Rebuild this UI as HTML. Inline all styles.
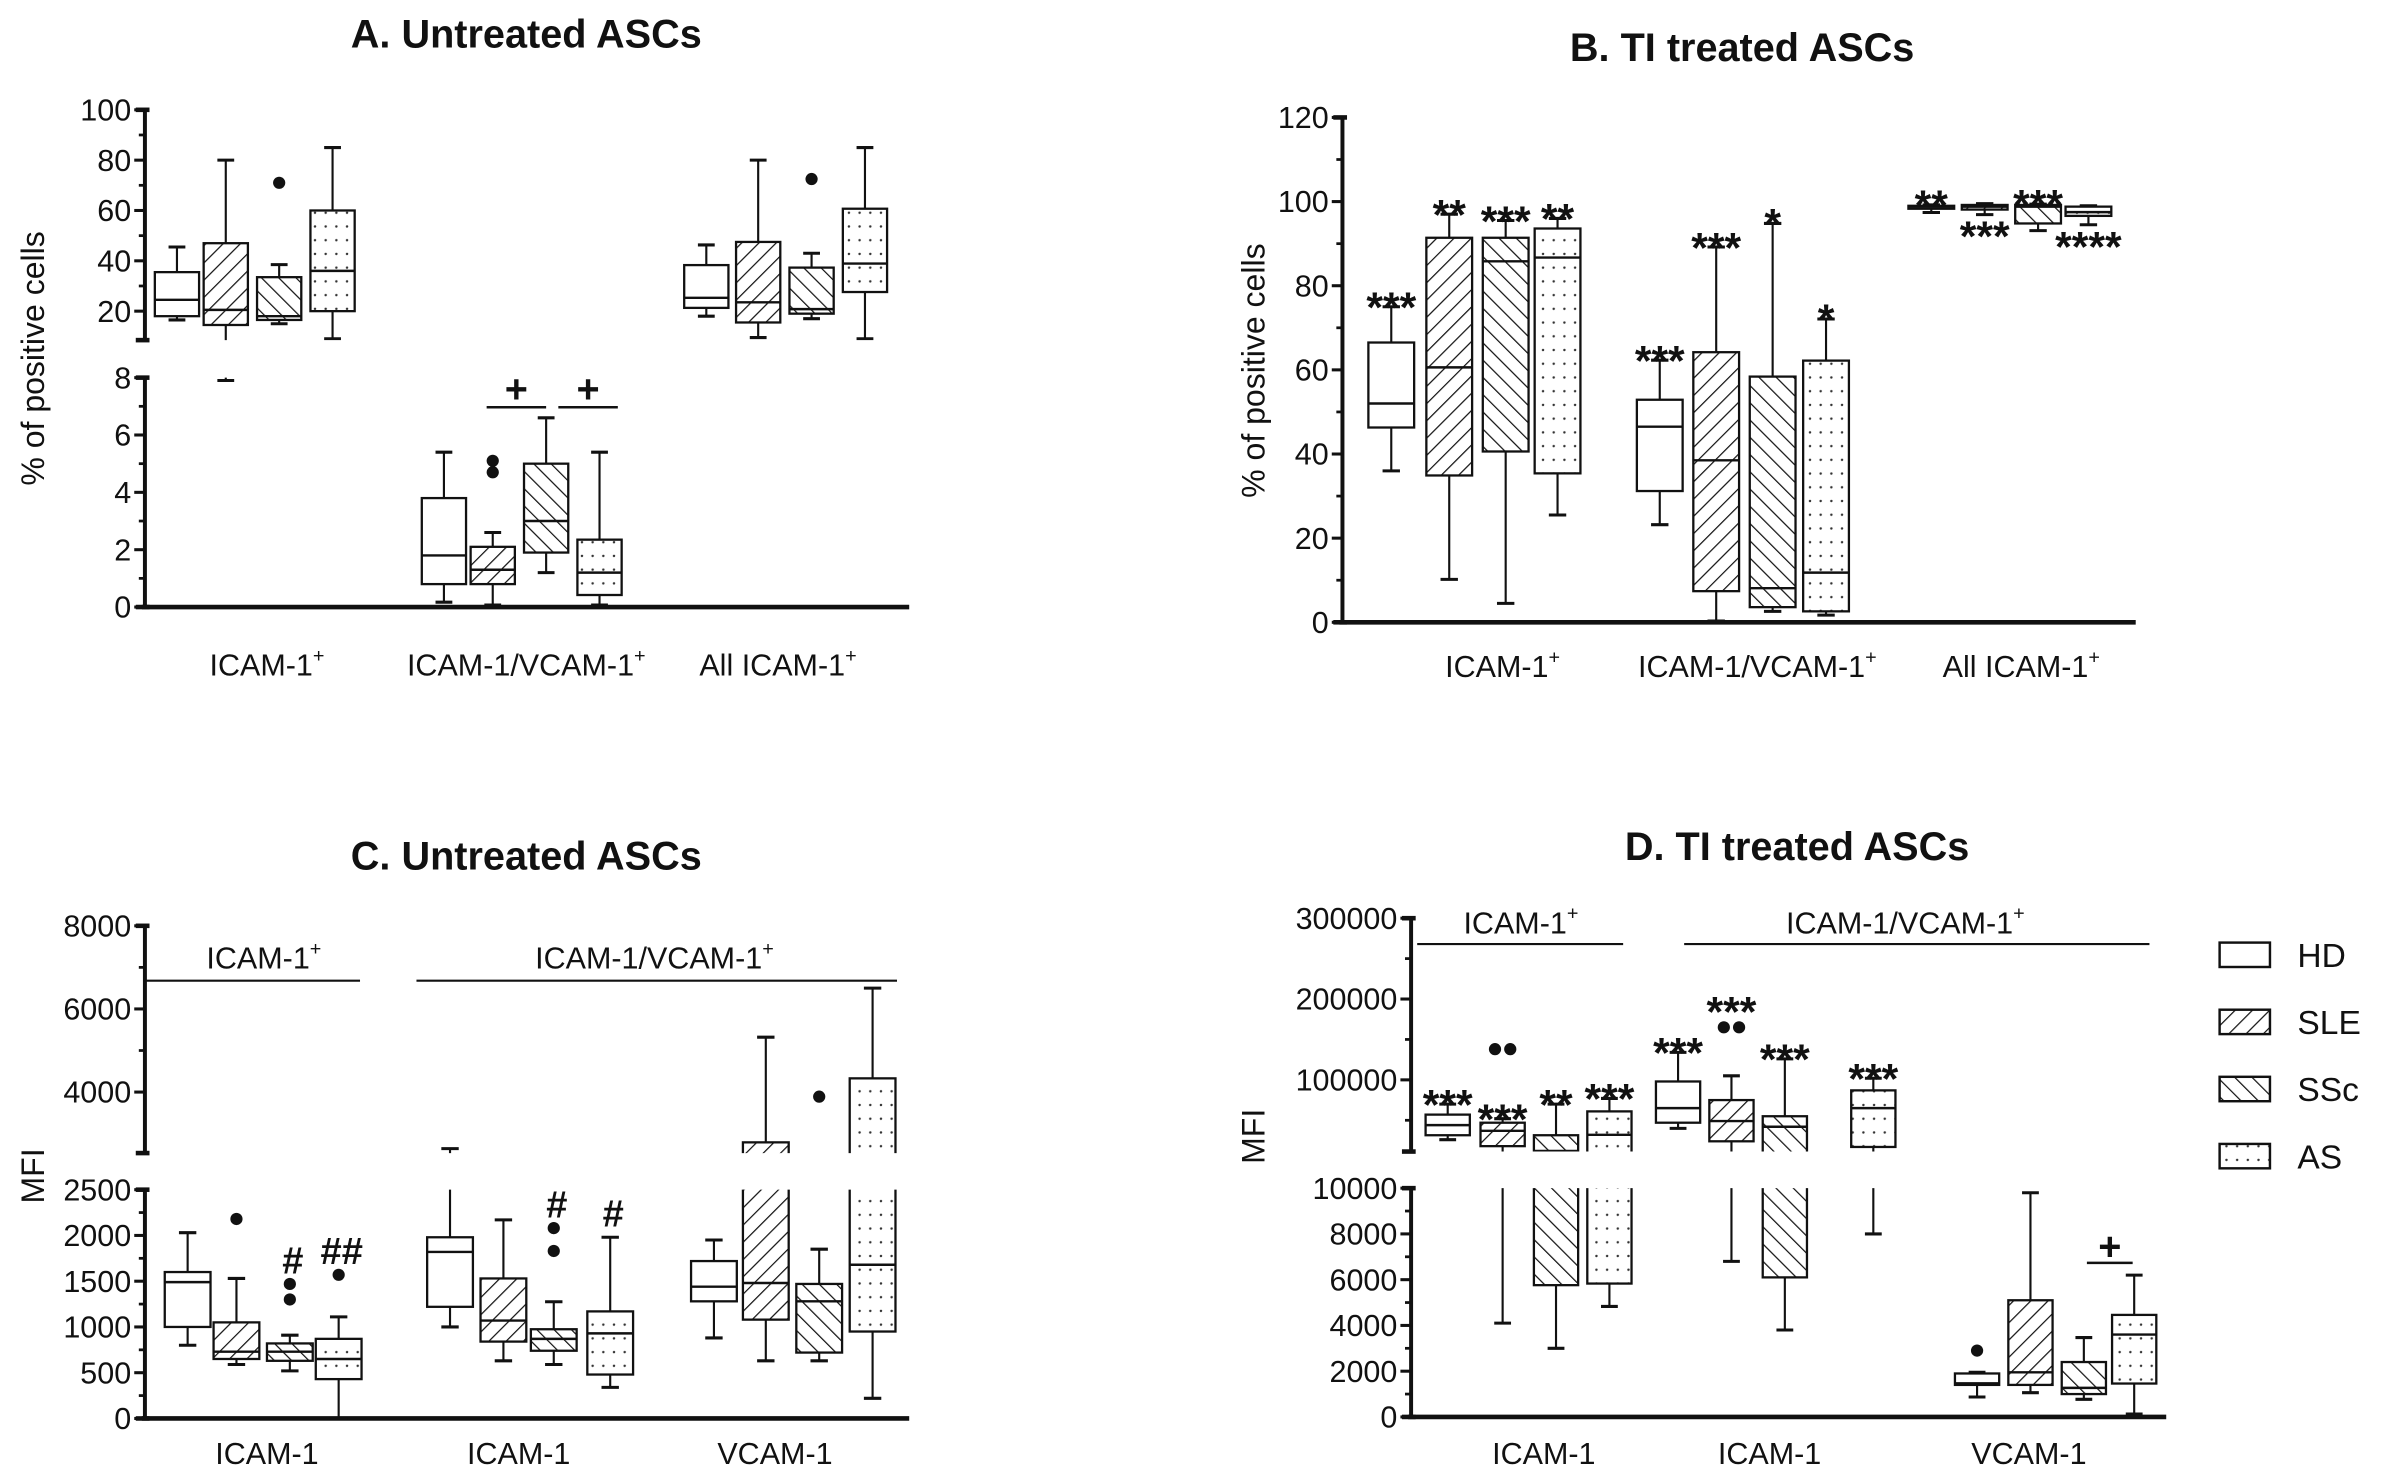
<!DOCTYPE html>
<html><head><meta charset="utf-8"><style>
html,body{margin:0;padding:0;background:#fff}
svg{display:block}
text{font-family:"Liberation Sans",Arial,sans-serif;fill:#111}
</style></head><body>
<svg id="chart" xmlns="http://www.w3.org/2000/svg" width="2392" height="1481" viewBox="0 0 1568 971" preserveAspectRatio="none">
<defs>
<pattern id="pSLE" patternUnits="userSpaceOnUse" width="8" height="8" patternTransform="rotate(45)"><rect width="8" height="8" fill="#fff"/><line x1="0" y1="0" x2="0" y2="8" stroke="#111" stroke-width="1.6"/></pattern>
<pattern id="pSSc" patternUnits="userSpaceOnUse" width="8" height="8" patternTransform="rotate(-45)"><rect width="8" height="8" fill="#fff"/><line x1="0" y1="0" x2="0" y2="8" stroke="#111" stroke-width="1.6"/></pattern>
<pattern id="pAS" patternUnits="userSpaceOnUse" width="7" height="9"><rect width="7" height="9" fill="#fff"/><circle cx="3.5" cy="4.5" r="0.8" fill="#333"/></pattern>
</defs>
</svg>
<script>
// ---------- DATA: [min, q1, median, q3, max] per group ----------
const seriesNames = ['HD','SLE','SSc','AS'];
// Panel A (% positive, groups: ICAM-1+, ICAM-1/VCAM-1+, All ICAM-1+)
const A_HD  = [[16.5,18,24.5,35.5,45.5],[0.17,0.8,1.8,3.8,5.4],[18,21.3,25.3,38.3,46.3]];
const A_SLE = [[7.9,14.5,20.5,47,80],[0.07,0.8,1.3,2.1,2.6],[9.5,15.5,23.5,47.5,80]];
const A_SSc = [[15,16.5,18,33.5,38.5],[1.2,1.9,3.0,5.0,6.6],[17,19,20.8,37.3,43]];
const A_AS  = [[9,20,36,60,85],[0.07,0.42,1.2,2.35,5.4],[9,27.6,38.9,60.7,85]];
const A_out = [[0,2,71],[1,1,4.7],[1,1,5.1],[2,2,72.5]];
const A_yUpTicks = [20,40,60,80,100];
const A_yLowTicks = [0,2,4,6,8];
// Panel B
const B_HD  = [[36,46.3,52,66.5,75],[23.2,31.2,46.5,52.9,62.3],[97.4,98.3,98.8,99,99.2]];
const B_SLE = [[10.2,34.9,60.6,91.4,97],[0.3,7.4,38.5,64.2,89.2],[96.9,98.1,98.8,99.2,99.5]];
const B_SSc = [[4.5,40.6,85.8,91.4,95.5],[2.6,3.6,8.1,58.4,94.8],[93.1,94.8,98.8,99.2,99.4]];
const B_AS  = [[25.5,35.4,86.7,93.6,96],[1.7,2.6,11.8,62.2,72.1],[94.5,96.6,97.5,98.8,99]];
const B_stars = [[0,0,'***',1],[0,1,'**',1],[0,2,'***',1],[0,3,'**',1],[1,0,'***',1],[1,1,'***',1],[1,2,'*',1],[1,3,'*',1],[2,0,'**',1],[2,1,'***',-1],[2,2,'***',1],[2,3,'****',-1]];
const B_yTicks = [0,20,40,60,80,100,120];
// Panel C (MFI, groups: ICAM-1, ICAM-1, VCAM-1)
const C_HD  = [[800,1000,1490,1600,2030],[1000,1220,1820,1980,2640],[880,1280,1440,1720,1950]];
const C_SLE = [[590,650,730,1050,1530],[630,840,1070,1530,2170],[630,1080,1480,2790,5320]];
const C_SSc = [[520,630,730,820,910],[590,740,870,975,1275],[630,720,1280,1470,1850]];
const C_AS  = [[0,430,650,870,1110],[340,480,930,1170,1980],[220,950,1680,4330,6500]];
const C_out = [[0,1,2180],[0,2,1470],[0,2,1300],[0,3,1570],[1,2,2080],[1,2,1830],[2,2,3890]];
const C_marks = [[0,2,'#',1470],[0,3,'##',1570],[1,2,'#',2080],[1,3,'#',1980]];
const C_yUpTicks = [4000,6000,8000];
const C_yLowTicks = [0,500,1000,1500,2000,2500];
// Panel D
const D_HD  = [[26000,31500,44000,57000,70000],[40000,47000,65000,98000,134000],[870,1400,1470,1900,1950]];
const D_SLE = [[4100,18000,37000,47000,52000],[6800,24000,49000,75000,105000],[1060,1400,1950,5100,9800]];
const D_SSc = [[3000,5760,12000,31500,70000],[3800,6100,42000,55000,126000],[770,1000,1270,2400,3470]];
const D_AS  = [[4830,5830,32000,61000,77000],[8000,17000,65000,87000,102000],[130,1460,3600,4460,6200]];
const D_out = [[0,1,138000],[0,1,138000],[1,1,165000],[1,1,165000],[2,0,2900]];
const D_stars = [[0,0,'***',70000],[0,1,'***',52000],[0,2,'**',70000],[0,3,'***',77000],[1,0,'***',134000],[1,1,'***',185000],[1,2,'***',126000],[1,3,'***',102000]];
const D_yUpTicks = [100000,200000,300000];
const D_yLowTicks = [0,2000,4000,6000,8000,10000];

// ---------- helpers ----------
const NS='http://www.w3.org/2000/svg';
const svg=document.getElementById('chart');
function mk(tag,attrs,parent){const e=document.createElementNS(NS,tag);for(const k in attrs)e.setAttribute(k,attrs[k]);(parent||svg).appendChild(e);return e;}
function lin(v0,y0,v1,y1){return v=>y0+(v-v0)*(y1-y0)/(v1-v0);}
function broken(th,low,up){return v=>v>th?up(v):low(v);}
const fills=['#fff','url(#pSLE)','url(#pSSc)','url(#pAS)'];
let clipN=0;
function clipRect(y0,y1){const id='c'+(clipN++);const c=mk('clipPath',{id:id},svg.querySelector('defs'));mk('rect',{x:0,y:y0,width:1568,height:y1-y0},c);return id;}

function drawBoxes(P){
  const series=[P.HD,P.SLE,P.SSc,P.AS];
  const clips=P.clips.map(c=>clipRect(c[0],c[1]));
  series.forEach((ser,si)=>{
    ser.forEach((s,gi)=>{
      const cx=P.centers[gi][si],w=P.w,y=P.y;
      clips.forEach(cid=>{
        const g=mk('g',{'clip-path':'url(#'+cid+')'});
        
        
        const cap=w*0.38;
        mk('line',{x1:cx,x2:cx,y1:y(s[3]),y2:y(s[4]),stroke:'#111','stroke-width':1.4},g);
        mk('line',{x1:cx,x2:cx,y1:y(s[1]),y2:y(s[0]),stroke:'#111','stroke-width':1.4},g);
        mk('line',{x1:cx-cap/2,x2:cx+cap/2,y1:y(s[4]),y2:y(s[4]),stroke:'#111','stroke-width':2},g);
        mk('line',{x1:cx-cap/2,x2:cx+cap/2,y1:y(s[0]),y2:y(s[0]),stroke:'#111','stroke-width':2},g);
        mk('rect',{x:cx-w/2,y:y(s[3]),width:w,height:Math.max(1,y(s[1])-y(s[3])),fill:fills[si],stroke:'#111','stroke-width':1.5},g);
        mk('line',{x1:cx-w/2,x2:cx+w/2,y1:y(s[2]),y2:y(s[2]),stroke:'#111','stroke-width':1.6},g);
      });
    });
  });
  const seen={};
  (P.out||[]).forEach(o=>{
    const key=o[0]+'_'+o[1]+'_'+o[2];seen[key]=(seen[key]||0)+1;
    const cnt=(P.out.filter(p=>p[0]==o[0]&&p[1]==o[1]&&p[2]==o[2])).length;
    const dx=cnt>1?(seen[key]==1?-5:5):0;
    const c=mk('circle',{cx:P.centers[o[0]][o[1]]+dx,cy:P.y(o[2]),r:4,fill:'#111'});
    
    
  });
}
function axis(P){
  const ax=P.ax;
  P.segs.forEach(sg=>{
    const l=mk('line',{x1:ax,x2:ax,y1:sg[0],y2:sg[1],stroke:'#111','stroke-width':2.6});
    
    
    mk('line',{x1:ax-6,x2:ax+3,y1:sg[0],y2:sg[0],stroke:'#111','stroke-width':3});
    mk('line',{x1:ax-6,x2:ax+3,y1:sg[1],y2:sg[1],stroke:'#111','stroke-width':3});
  });
  P.ticks.forEach(v=>{
    const yy=P.y(v);
    mk('line',{x1:ax-7,x2:ax,y1:yy,y2:yy,stroke:'#111','stroke-width':2});
    const t=mk('text',{x:ax-9,y:yy+7,'text-anchor':'end','font-size':20});
    t.textContent=v;
    
    
  });
  (P.minor||[]).forEach(v=>{const yy=P.y(v);mk('line',{x1:ax-4,x2:ax,y1:yy,y2:yy,stroke:'#111','stroke-width':1.8});});
  const xl=mk('line',{x1:ax-2,x2:P.xEnd,y1:P.base,y2:P.base,stroke:'#111','stroke-width':3});
  
  
}
function txt(x,y,s,size,attrs,name){const t=mk('text',Object.assign({x:x,y:y,'font-size':size,'text-anchor':'middle'},attrs||{}));t.innerHTML=s;return t;}
const sup='<tspan dy="-9" font-size="13">+</tspan>';

// ---------- Panel A ----------
const PA={ax:95,xEnd:596,base:398,w:29,
  y:broken(8.2,lin(0,398,8,247.6),lin(20,204,100,72)),
  centers:[[116,148,183,218],[291,323,358,393],[463,497,532,567]],
  HD:A_HD,SLE:A_SLE,SSc:A_SSc,AS:A_AS,out:A_out,
  clips:[[0,223],[247.6,401]],segs:[[72,223],[247.6,398]],
  ticks:A_yUpTicks.concat(A_yLowTicks),minor:[30,50,70,90,1,3,5,7]};
axis(PA);drawBoxes(PA);
txt(345,31,'A. Untreated ASCs',26,{'font-weight':'bold'},'panel-a-title');
txt(0,0,'% of positive cells',21,{transform:'translate(29,235) rotate(-90)'},'panel-a-y-title');
txt(175,443,'ICAM-1'+sup,20,{},'panel-a-group-label');
txt(345,443,'ICAM-1/VCAM-1'+sup,20,{},'panel-a-group-label');
txt(510,443,'All ICAM-1'+sup,20,{},'panel-a-group-label');
[[319,358],[366,405]].forEach(b=>{mk('line',{x1:b[0],x2:b[1],y1:267,y2:267,stroke:'#111','stroke-width':1.6});txt((b[0]+b[1])/2,264,'+',26,{'font-weight':'bold'},'significance-plus');});

// ---------- Panel B ----------
const PB={ax:880,xEnd:1400,base:408,w:30,
  y:lin(0,408,120,77),
  centers:[[912,950,987,1021],[1088,1125,1162,1197],[1266,1301,1336,1369]],
  HD:B_HD,SLE:B_SLE,SSc:B_SSc,AS:B_AS,out:[],
  clips:[[0,412]],segs:[[77,408]],ticks:B_yTicks,minor:[10,30,50,70,90,110]};
axis(PB);drawBoxes(PB);
B_stars.forEach(s=>{const ser=[B_HD,B_SLE,B_SSc,B_AS][s[1]][s[0]];const cx=PB.centers[s[0]][s[1]];
  const yy=s[3]>0?PB.y(ser[4])+10:PB.y(ser[0])+24;txt(cx,yy,s[2],28,{'font-weight':'bold'},'significance-stars');});
txt(1142,40,'B. TI treated ASCs',26,{'font-weight':'bold'},'panel-b-title');
txt(0,0,'% of positive cells',21,{transform:'translate(829,243) rotate(-90)'},'panel-b-y-title');
txt(985,444,'ICAM-1'+sup,20,{},'panel-b-group-label');
txt(1152,444,'ICAM-1/VCAM-1'+sup,20,{},'panel-b-group-label');
txt(1325,444,'All ICAM-1'+sup,20,{},'panel-b-group-label');

// ---------- Panel C ----------
const PC={ax:95,xEnd:596,base:930,w:30,
  y:broken(2530,lin(0,930,2500,780),lin(4000,716,8000,607)),
  centers:[[123,155,190,222],[295,330,363,400],[468,502,537,572]],
  HD:C_HD,SLE:C_SLE,SSc:C_SSc,AS:C_AS,out:C_out,
  clips:[[0,756],[780,933]],segs:[[607,756],[780,930]],
  ticks:C_yUpTicks.concat(C_yLowTicks),minor:[5000,7000,250,750,1250,1750,2250]};
axis(PC);drawBoxes(PC);
C_marks.forEach(m=>{txt(PC.centers[m[0]][m[1]]+2,PC.y(m[3])-7,m[2],25,{'font-weight':'bold'},'significance-hash');});
txt(345,570,'C. Untreated ASCs',26,{'font-weight':'bold'},'panel-c-title');
txt(0,0,'MFI',21,{transform:'translate(29,771) rotate(-90)'},'panel-c-y-title');
mk('line',{x1:95,x2:236,y1:643,y2:643,stroke:'#111','stroke-width':1.4});
mk('line',{x1:273,x2:588,y1:643,y2:643,stroke:'#111','stroke-width':1.4});
txt(173,635,'ICAM-1'+sup,20,{},'panel-c-bracket-label');
txt(429,635,'ICAM-1/VCAM-1'+sup,20,{},'panel-c-bracket-label');
txt(175,960,'ICAM-1',20,{},'panel-c-x-label');
txt(340,960,'ICAM-1',20,{},'panel-c-x-label');
txt(508,960,'VCAM-1',20,{},'panel-c-x-label');

// ---------- Panel D ----------
const PD={ax:925,xEnd:1420,base:929,w:29,
  y:broken(10000,lin(0,929,10000,779),lin(100000,708,300000,602)),
  centers:[[949,985,1020,1055],[1100,1135,1170,1228],[1296,1331,1366,1399]],
  HD:D_HD,SLE:D_SLE,SSc:D_SSc,AS:D_AS,out:D_out,
  clips:[[0,755],[779,932]],segs:[[602,755],[779,929]],
  ticks:D_yUpTicks.concat(D_yLowTicks),minor:[50000,150000,250000,1000,3000,5000,7000,9000]};
axis(PD);drawBoxes(PD);
D_stars.forEach(s=>{txt(PD.centers[s[0]][s[1]],PD.y(s[3])+10,s[2],28,{'font-weight':'bold'},'significance-stars');});
mk('line',{x1:1368,x2:1398,y1:828,y2:828,stroke:'#111','stroke-width':1.6});
txt(1383,826,'+',26,{'font-weight':'bold'},'significance-plus');
txt(1178,564,'D. TI treated ASCs',26,{'font-weight':'bold'},'panel-d-title');
txt(0,0,'MFI',21,{transform:'translate(829,745) rotate(-90)'},'panel-d-y-title');
mk('line',{x1:929,x2:1064,y1:619,y2:619,stroke:'#111','stroke-width':1.4});
mk('line',{x1:1104,x2:1409,y1:619,y2:619,stroke:'#111','stroke-width':1.4});
txt(997,612,'ICAM-1'+sup,20,{},'panel-d-bracket-label');
txt(1249,612,'ICAM-1/VCAM-1'+sup,20,{},'panel-d-bracket-label');
txt(1012,960,'ICAM-1',20,{},'panel-d-x-label');
txt(1160,960,'ICAM-1',20,{},'panel-d-x-label');
txt(1330,960,'VCAM-1',20,{},'panel-d-x-label');

// ---------- Legend ----------
const legY=[618,662,706,750];
seriesNames.forEach((n,i)=>{
  const r=mk('rect',{x:1455,y:legY[i],width:33,height:16,fill:fills[i],stroke:'#111','stroke-width':1.6});
  
  
  const t=mk('text',{x:1506,y:legY[i]+16,'font-size':22});
  t.textContent=n;
  
  
});
</script>
</body></html>
